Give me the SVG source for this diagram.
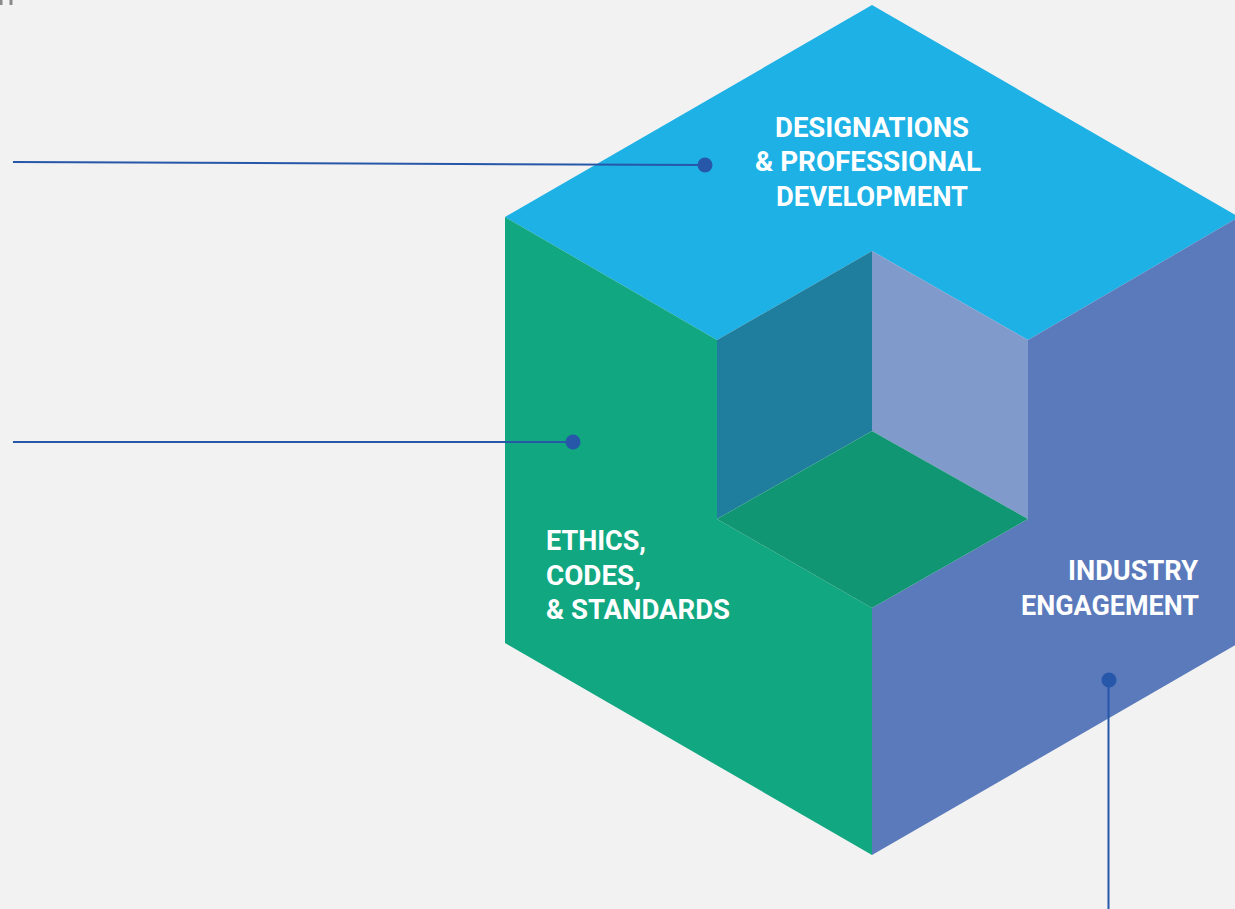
<svg xmlns="http://www.w3.org/2000/svg" width="1235" height="909" viewBox="0 0 1235 909">
<style>
.lbl{font-family:Roboto,"Liberation Sans",sans-serif;font-weight:bold;font-size:28px;fill:#ffffff}
.conn{stroke:#2757A8;stroke-width:2;fill:none}
.dot{fill:#2757A8}
</style>
<rect width="1235" height="909" fill="#F2F2F2"/>
<rect x="0" y="0" width="2.5" height="5" fill="#8a8a8a"/>
<rect x="9.5" y="0" width="3" height="5" fill="#8a8a8a"/>
<g id="cube">
<g id="top-face"><polygon points="872,5 1239,217 1028,340 872,251 717,340 505,217" fill="#1EB1E5"/></g>
<g id="left-face"><polygon points="505,217 717,340 717,519 872,608 872,855 505,643" fill="#11A781"/></g>
<g id="right-face"><polygon points="1239,217 1239,643 872,855 872,608 1028,519 1028,340" fill="#5A7ABB"/></g>
<g id="inner-left"><polygon points="717,340 872,251 872,431 717,519" fill="#1F7E9E"/></g>
<g id="inner-right"><polygon points="872,251 1028,340 1028,519 872,431" fill="#7F9ACB"/></g>
<g id="inner-floor"><polygon points="872,431 1028,519 872,608 717,519" fill="#119673"/></g>
</g>
<g id="label-designations">
<text class="lbl" x="872" y="137" text-anchor="middle" textLength="194" lengthAdjust="spacingAndGlyphs">DESIGNATIONS</text>
<text class="lbl" x="868" y="171" text-anchor="middle" textLength="226" lengthAdjust="spacingAndGlyphs">&amp; PROFESSIONAL</text>
<text class="lbl" x="872" y="206" text-anchor="middle" textLength="192" lengthAdjust="spacingAndGlyphs">DEVELOPMENT</text>
</g>
<g id="label-ethics">
<text class="lbl" x="546" y="550" textLength="100" lengthAdjust="spacingAndGlyphs">ETHICS,</text>
<text class="lbl" x="546" y="585" textLength="95" lengthAdjust="spacingAndGlyphs">CODES,</text>
<text class="lbl" x="546" y="619" textLength="184" lengthAdjust="spacingAndGlyphs">&amp; STANDARDS</text>
</g>
<g id="label-industry">
<text class="lbl" x="1198" y="580" text-anchor="end" textLength="130" lengthAdjust="spacingAndGlyphs">INDUSTRY</text>
<text class="lbl" x="1199" y="615" text-anchor="end" textLength="178" lengthAdjust="spacingAndGlyphs">ENGAGEMENT</text>
</g>
<g id="connectors">
<line class="conn" x1="13" y1="162" x2="705" y2="165"/>
<circle class="dot" cx="705" cy="165" r="7.5"/>
<line class="conn" x1="13" y1="442" x2="573" y2="442"/>
<circle class="dot" cx="573" cy="442" r="7.5"/>
<line class="conn" x1="1108.5" y1="680" x2="1108.5" y2="909"/>
<circle class="dot" cx="1109" cy="680" r="7.5"/>
</g>
</svg>
